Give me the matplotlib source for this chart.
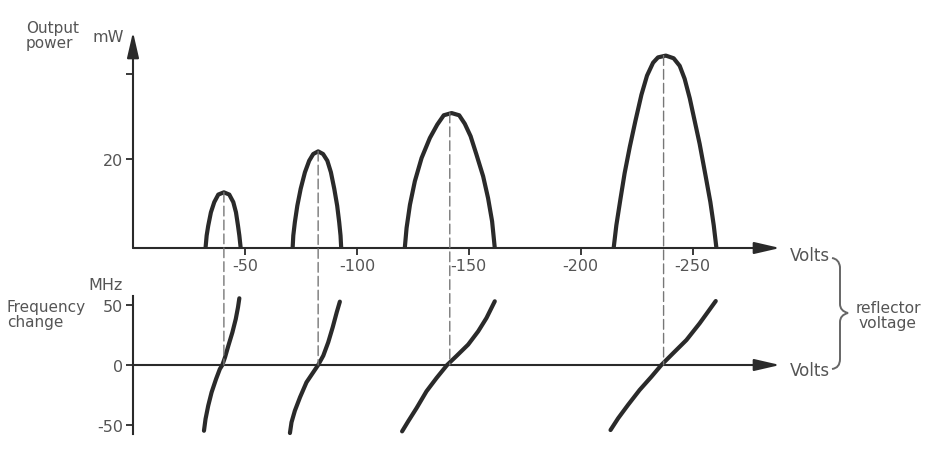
import numpy as np
import matplotlib.pyplot as plt
from matplotlib.patches import ConnectionPatch, PathPatch
from matplotlib.path import Path

# reflector voltage magnitude (V) vs output power (mW), one list pair per mode
mode1_v = [32.4, 32.9, 33.6, 34.8, 36.3, 38.1, 40.6, 43.0, 44.8, 46.0, 46.9, 47.5, 48.1]
mode1_p = [0, 2.8, 5.0, 8.0, 10.3, 12.0, 12.5, 12.0, 10.3, 8.0, 5.0, 2.8, 0]
mode2_v = [71.3, 71.6, 72.3, 73.4, 74.9, 76.8, 78.7, 80.5, 82.7, 84.9, 86.8, 88.4, 89.9, 91.2, 92.1, 92.7, 93.0]
mode2_p = [0, 2.8, 5.8, 9.5, 13.3, 17.0, 19.6, 21.1, 21.7, 21.1, 19.6, 17.0, 13.3, 9.5, 5.8, 2.8, 0]
mode3_v = [121.4, 122.2, 123.7, 125.9, 128.9, 132.6, 135.9, 138.8, 142.3, 145.7, 148.2, 150.8, 153.4, 156.4, 158.6, 160.4, 161.6]
mode3_p = [0, 4.5, 9.7, 15.0, 20.2, 24.7, 27.7, 29.8, 30.3, 29.8, 27.9, 25.1, 21.0, 16.1, 11.2, 6.0, 0]
mode4_v = [214.7, 215.9, 217.7, 219.6, 221.9, 224.4, 227.1, 229.6, 232.3, 234.5, 238.0, 241.5, 244.2, 246.4,
           248.7, 250.9, 253.1, 255.8, 257.9, 259.4, 260.6]
mode4_p = [0, 5.1, 10.9, 16.8, 22.7, 28.5, 34.4, 38.7, 41.6, 42.8, 43.2, 42.6, 40.9, 38.0, 33.6, 28.5,
           23.4, 16.1, 10.3, 5.1, 0]

# reflector voltage magnitude (V) vs frequency change (MHz)
freq1_v = [31.7, 32.4, 33.6, 35.1, 37.1, 38.8, 39.9, 41.1, 42.6, 44.4, 45.9, 46.9, 47.5]
freq1_f = [-54.8, -45, -33.9, -22.8, -11.7, -3.3, 0, 6.4, 16.1, 27.2, 38.3, 48.1, 55.6]
freq2_v = [70.1, 70.8, 72.3, 74.6, 77.5, 80.5, 82.7, 85.0, 87.2, 89.2, 91.0, 92.4]
freq2_f = [-56.7, -47.8, -38.1, -26.9, -14.4, -6.1, 0, 7.8, 18.9, 31.4, 43.9, 52.8]
freq3_v = [120.2, 122.9, 126.7, 131.1, 135.6, 140.3, 144.5, 149.7, 154.2, 157.9, 161.6]
freq3_f = [-55.3, -47.0, -35.8, -21.9, -10.8, 0, 7.5, 17.0, 28.1, 39.2, 53.1]
freq4_v = [213.3, 216.7, 221.1, 226.3, 231.6, 236.0, 241.2, 247.2, 253.1, 260.3]
freq4_f = [-54.2, -44.4, -33.3, -20.8, -9.7, 0, 9.7, 20.8, 34.7, 53.3]

# centre of each mode (dashed guide lines)
peak_v = [40.6, 82.7, 141.5, 237.0]
peak_p = [12.5, 21.7, 30.3, 43.2]

x_ticks = [50, 100, 150, 200, 250]
x_tick_labels = ['-50', '-100', '-150', '-200', '-250']
p_ticks = [20, 39]
p_tick_labels = ['20', '']
f_ticks = [-50, 0, 50]
f_tick_labels = ['-50', '0', '50']

W, H = 935, 456
ink = '#2a2a2a'
txt = '#555555'


def fx(x):
    return x / W


def fy(y):
    return 1 - y / H


fig = plt.figure(figsize=(W / 100, H / 100), dpi=100)

ax_top = fig.add_axes([fx(133), fy(249), fx(780) - fx(133), fy(33) - fy(249)])
ax_bot = fig.add_axes([fx(133), fy(435), fx(780) - fx(133), fy(297) - fy(435)])

ax_top.set_xlim(0, 289)
ax_top.set_ylim(0, 48.5)
ax_bot.set_xlim(0, 289)
ax_bot.set_ylim(-57.5, 57.5)

for ax in (ax_top, ax_bot):
    for s in ax.spines.values():
        s.set_visible(False)
    ax.patch.set_alpha(0)

ax_bot.spines['left'].set_visible(True)
ax_bot.spines['left'].set_color(ink)
ax_bot.spines['left'].set_linewidth(1.5)

arrow = dict(arrowstyle='-|>,head_length=1.3,head_width=0.3', color=ink, lw=1.5,
             shrinkA=0, shrinkB=0, mutation_scale=12)
ax_top.annotate('', xy=(289, 0), xytext=(0, 0), arrowprops=arrow, annotation_clip=False)
ax_top.annotate('', xy=(0, 48.5), xytext=(0, 0), arrowprops=arrow, annotation_clip=False)
ax_bot.annotate('', xy=(289, 0), xytext=(0, 0), arrowprops=arrow, annotation_clip=False)

ax_top.set_xticks(x_ticks, x_tick_labels)
ax_top.set_yticks(p_ticks, p_tick_labels)
ax_bot.set_xticks([])
ax_bot.set_yticks(f_ticks, f_tick_labels)
for ax in (ax_top, ax_bot):
    ax.tick_params(direction='out', length=5, width=1.3, color=ink, labelcolor=txt,
                   labelsize=11.5, pad=2)

for v, p in zip([mode1_v, mode2_v, mode3_v, mode4_v], [mode1_p, mode2_p, mode3_p, mode4_p]):
    ax_top.plot(v, p, color=ink, lw=3.0, solid_capstyle='butt', solid_joinstyle='round',
                clip_on=False, zorder=3)

for v, f in zip([freq1_v, freq2_v, freq3_v, freq4_v], [freq1_f, freq2_f, freq3_f, freq4_f]):
    ax_bot.plot(v, f, color=ink, lw=3.0, solid_capstyle='round', solid_joinstyle='round',
                clip_on=False, zorder=3)

for v, p in zip(peak_v, peak_p):
    con = ConnectionPatch(xyA=(v, p), coordsA=ax_top.transData, xyB=(v, 0), coordsB=ax_bot.transData,
                          color='#777777', lw=1.0, linestyle=(0, (7, 3)), zorder=1)
    fig.add_artist(con)

# text labels
fig.text(fx(26), fy(36), 'Output\npower', color=txt, fontsize=11, ha='left', va='center', linespacing=1.0)
fig.text(fx(108), fy(38), 'mW', color=txt, fontsize=11.5, ha='center', va='center')
fig.text(fx(106), fy(286), 'MHz', color=txt, fontsize=11.5, ha='center', va='center')
fig.text(fx(7), fy(315), 'Frequency\nchange', color=txt, fontsize=11, ha='left', va='center', linespacing=1.05)
fig.text(fx(790), fy(256), 'Volts', color=txt, fontsize=12, ha='left', va='center')
fig.text(fx(790), fy(371), 'Volts', color=txt, fontsize=12, ha='left', va='center')
fig.text(fx(888), fy(316), 'reflector\nvoltage', color=txt, fontsize=11.2, ha='center', va='center',
         linespacing=1.05)

# curly brace
pts = [(832, 259), (839, 260), (840, 268), (840, 305), (840, 312), (848, 314),
       (840, 316), (840, 323), (840, 360), (840, 369), (832, 370)]
codes = [Path.MOVETO, Path.CURVE3, Path.CURVE3, Path.LINETO, Path.CURVE3, Path.CURVE3,
         Path.CURVE3, Path.CURVE3, Path.LINETO, Path.CURVE3, Path.CURVE3]
brace = Path([(fx(x), fy(y)) for x, y in pts], codes)
fig.add_artist(PathPatch(brace, transform=fig.transFigure, fill=False, edgecolor='#666666', lw=1.4))

fig.savefig('out.png', dpi=100)
